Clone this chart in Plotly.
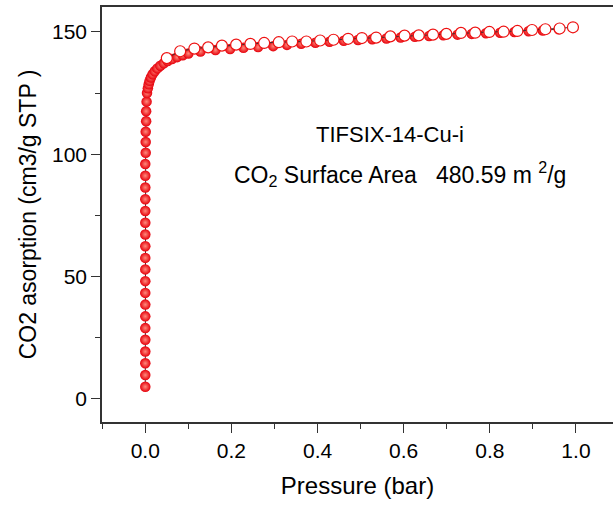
import plotly.graph_objects as go

# Adsorption branch (filled spheres)
ads_p = [0.000, 0.000, 0.000, 0.000, 0.000, 0.000, 0.000, 0.000, 0.000, 0.000,
         0.000, 0.000, 0.000, 0.000, 0.000, 0.000, 0.000, 0.000, 0.000, 0.000,
         0.001, 0.001, 0.001, 0.002, 0.002, 0.003, 0.004,
         0.006, 0.008, 0.010, 0.013, 0.017, 0.022, 0.028, 0.035, 0.043, 0.052,
         0.062, 0.074, 0.087,
         0.100, 0.128, 0.163, 0.197, 0.228, 0.262, 0.297, 0.329, 0.362, 0.395,
         0.428, 0.461, 0.494, 0.527, 0.560, 0.593, 0.626, 0.659, 0.692, 0.725,
         0.758, 0.791, 0.824, 0.857, 0.890, 0.923, 0.960]
ads_q = [4.9, 9.7, 14.5, 19.3, 24.1, 28.9, 33.7, 38.5, 43.3, 48.1,
         52.9, 57.6, 62.4, 67.2, 72.0, 76.8, 81.6, 86.4, 91.2, 96.0,
         100.6, 105.0, 109.2, 113.5, 117.6, 121.5, 125.0,
         127.0, 128.6, 130.0, 131.4, 132.7, 133.9, 135.1, 136.2, 137.2, 138.1,
         138.9, 139.7, 140.5,
         141.2, 142.0, 142.6, 143.0, 143.5, 143.8, 144.2, 144.7, 145.2, 145.6,
         146.0, 146.4, 146.7, 147.0, 147.3, 147.7, 148.0, 148.3, 148.6, 148.9,
         149.2, 149.5, 149.7, 150.0, 150.3, 150.6, 151.1]

# Desorption branch (open circles)
des_p = [0.993, 0.962, 0.929, 0.898, 0.864, 0.832, 0.799, 0.766, 0.733, 0.699,
         0.668, 0.635, 0.602, 0.569, 0.536, 0.503, 0.471, 0.437, 0.406, 0.374,
         0.341, 0.310, 0.276, 0.244, 0.211, 0.178, 0.146, 0.114, 0.081, 0.050]
des_q = [151.9, 151.4, 151.1, 150.8, 150.4, 150.1, 150.0, 149.7, 149.6, 149.2,
         148.9, 148.6, 148.5, 148.2, 147.7, 147.5, 147.2, 146.8, 146.5, 146.1,
         146.1, 145.8, 145.5, 145.1, 144.8, 144.4, 143.7, 143.2, 142.1, 139.3]

x_ticks = [0.0, 0.2, 0.4, 0.6, 0.8, 1.0]
y_ticks = [0, 50, 100, 150]

FONT = "Liberation Sans, Arial, sans-serif"

fig = go.Figure()
fig.add_trace(go.Scatter(
    x=ads_p, y=ads_q, mode="lines+markers",
    line=dict(color="#333333", width=1),
    marker=dict(size=10.5, color="#e6000b",
                gradient=dict(type="radial", color="#ff8a7c"),
                line=dict(width=0)),
    showlegend=False))
fig.add_trace(go.Scatter(
    x=des_p, y=des_q, mode="lines+markers",
    line=dict(color="#333333", width=1),
    marker=dict(size=11, color="white",
                line=dict(color="#ee1111", width=1.2)),
    showlegend=False))

fig.add_annotation(x=0.569, y=108, xref="x", yref="y",
                   text="TIFSIX-14-Cu-i", showarrow=False,
                   font=dict(family=FONT, size=22, color="black"))
fig.add_annotation(x=0.592, y=92, xref="x", yref="y",
                   text="CO<sub>2</sub> Surface Area&nbsp;&nbsp;&nbsp;480.59 m <sup>2</sup>/g",
                   showarrow=False,
                   font=dict(family=FONT, size=23, color="black"))

fig.update_layout(
    width=613, height=506,
    margin=dict(l=102, r=0, t=7, b=84),
    paper_bgcolor="white", plot_bgcolor="white",
    font=dict(family=FONT, color="black"),
    xaxis=dict(
        range=[-0.1005, 1.086], tickvals=x_ticks,
        ticktext=[f"{v:.1f}" for v in x_ticks],
        ticks="outside", ticklen=9, tickwidth=1.2, tickcolor="#333",
        minor=dict(dtick=0.1, tick0=-0.1, ticks="outside", ticklen=5, tickcolor="#333", tickwidth=1.2),
        showline=True, linecolor="#333", linewidth=1.5, mirror=True,
        showgrid=False, zeroline=False,
        tickfont=dict(size=21),
        title=dict(text="Pressure (bar)", font=dict(size=24), standoff=16),
    ),
    yaxis=dict(
        range=[-9.5, 160.2], tickvals=y_ticks,
        ticks="outside", ticklen=9, tickwidth=1.2, tickcolor="#333",
        minor=dict(dtick=25, tick0=0, ticks="outside", ticklen=5, tickcolor="#333", tickwidth=1.2),
        showline=True, linecolor="#333", linewidth=1.5,
        showgrid=False, zeroline=False,
        tickfont=dict(size=21),
        title=dict(text="CO2 asorption (cm3/g STP )", font=dict(size=23), standoff=9),
    ),
)

fig.write_html("out.html")
